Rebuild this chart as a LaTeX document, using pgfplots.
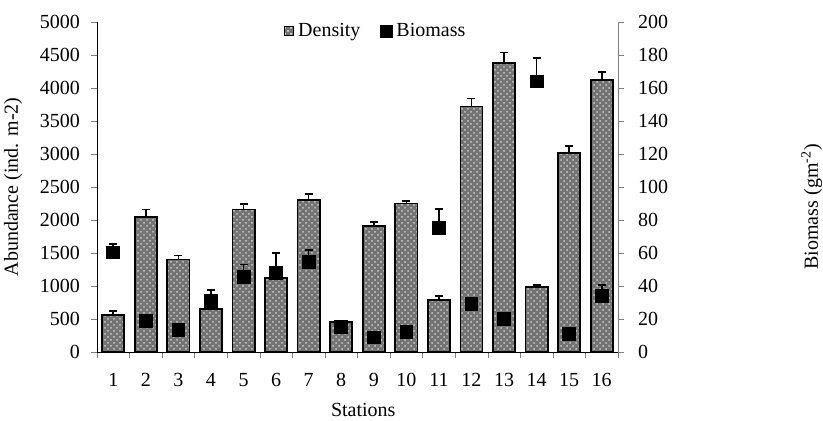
\documentclass[border=0pt]{standalone}
\usepackage{pgfplots}
\pgfplotsset{compat=1.18}
\usepackage{pgfplotstable}
\usepackage{fontspec}
\setmainfont{Liberation Serif}
\usetikzlibrary{patterns}

% station, density, error (ind. m-2)
\pgfplotstableread{
x y e
1 560 65
2 2050 110
3 1400 60
4 650 50
5 2160 80
6 1120 40
7 2300 90
8 450 20
9 1910 60
10 2250 35
11 790 55
12 3720 120
13 4380 160
14 985 30
15 3010 110
16 4120 120
}\density

% station, biomass, error (gm-2)
\pgfplotstableread{
x y e
1 60.4 5
2 19 0
3 13.3 0
4 31 6.6
5 45.6 7.4
6 48 12
7 54.7 7
8 15.3 0
9 8.9 0
10 12.3 0
11 75 11.5
12 29 0
13 20 0
14 164 14
15 10.9 0
16 34 6.6
}\biomass

\begin{document}
\begin{tikzpicture}
\pgfplotsset{
  every axis/.append style={
    scale only axis, width=260.5pt, height=165pt,
    xmin=0.5, xmax=16.5,
    /pgf/number format/assume math mode=true,
    /pgf/number format/1000 sep={},
    tick align=outside, major tick length=3pt, minor tick length=3pt,
    font=\fontsize{10}{12}\selectfont,
  },
}
\begin{axis}[
  axis x line*=bottom, axis y line*=left,
  ymin=0, ymax=5000, ytick={0,500,...,5000},
  xtick={1,...,16},
  minor xtick={0.5,1.5,...,16.5},
  every major x tick/.append style={draw=none},
  xticklabel style={yshift=-4pt},
  yticklabel style={xshift=-2pt},
  ylabel={Abundance (ind. m-2)},
  ylabel style={at={(axis description cs:-0.161,0.5)}, anchor=center},
  xlabel={Stations},
  xlabel style={at={(axis description cs:0.511,-0.176)}, anchor=center},
  legend style={draw=none, fill=none, at={(axis description cs:0.537,0.973)}, anchor=center,
    legend columns=2, /tikz/every even column/.append style={column sep=8pt},
    /tikz/every odd column/.append style={column sep=0pt}},
  legend cell align=left,
]
\addplot[ybar, bar width=0.68, draw=black, line width=0.9pt, fill=black!55,
  postaction={pattern=crosshatch dots, pattern color=white!80!black},
  legend image code/.code={\draw[black, line width=0.5pt, fill=black!55,
    postaction={pattern=crosshatch dots, pattern color=white!80!black}]
    (0pt,-2.25pt) rectangle (4.5pt,2.25pt);},
  error bars/.cd, y dir=plus, y explicit,
  error bar style={black, line width=0.8pt},
  error mark options={black, rotate=90, mark size=2pt, line width=0.8pt}
] table[x=x, y=y, y error=e] {\density};
\addlegendentry{Density}
\addlegendimage{only marks, mark=square*, black, mark size=3pt}
\addlegendentry{Biomass}
\end{axis}
\begin{axis}[
  axis x line=none, axis y line*=right,
  ymin=0, ymax=200, ytick={0,20,...,200},
  y axis line style={gray},
  every y tick/.append style={gray},
  yticklabel style={xshift=3.5pt},
  ylabel={Biomass (gm\textsuperscript{-2})},
  ylabel style={at={(axis description cs:1.372,0.44)}, anchor=center},
]
\addplot[only marks, mark=square*, mark size=3.2pt, black,
  error bars/.cd, y dir=plus, y explicit,
  error bar style={black, line width=0.8pt},
  error mark options={black, rotate=90, mark size=2pt, line width=0.8pt}
] table[x=x, y=y, y error=e] {\biomass};
\end{axis}
\pgfresetboundingbox
\path (-48.5pt,-34.5pt) rectangle (363pt,176pt);
\end{tikzpicture}
\end{document}
